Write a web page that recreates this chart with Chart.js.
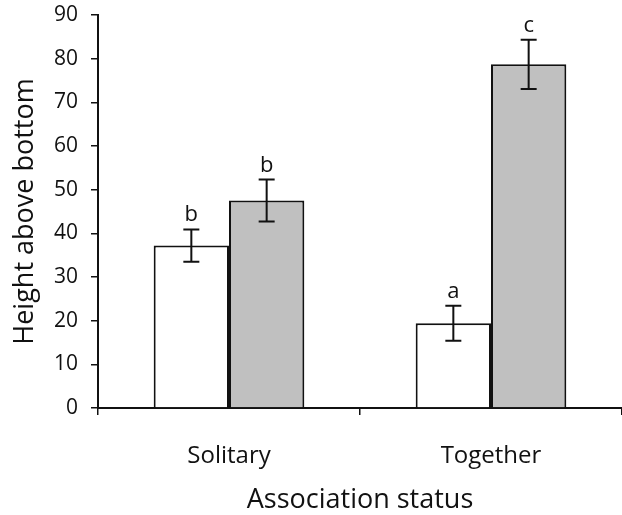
<!DOCTYPE html>
<html>
<head>
<meta charset="utf-8">
<script src="https://cdn.jsdelivr.net/npm/chart.js@4/dist/chart.umd.min.js"></script>
<style>
html,body{margin:0;padding:0;background:#fff;}
#wrap{width:622px;height:515px;}
</style>
</head>
<body>
<div id="wrap"><canvas id="c" width="622" height="515"></canvas></div>
<script>
const categories = ['Solitary', 'Together'];
const seriesWhite = [37.2, 19.4];
const errWhite = [3.7, 4.0];
const lettersWhite = ['b', 'a'];
const seriesGrey = [47.5, 78.7];
const errGrey = [4.8, 5.65];
const lettersGrey = ['b', 'c'];
const yMin = 0, yMax = 90, yStep = 10;
const yTitle = 'Height above bottom';
const xTitle = 'Association status';

const FONT = "'Open Sans', sans-serif";
const INK = '#111';

const errorPlugin = {
  id: 'errorBars',
  afterDatasetsDraw(chart) {
    const ctx = chart.ctx;
    const yScale = chart.scales.y;
    const errs = [errWhite, errGrey];
    const letters = [lettersWhite, lettersGrey];
    chart.data.datasets.forEach((ds, di) => {
      const meta = chart.getDatasetMeta(di);
      meta.data.forEach((bar, i) => {
        const v = ds.data[i];
        const e = errs[di][i];
        const x = bar.x;
        const yTop = yScale.getPixelForValue(v + e);
        const yBot = yScale.getPixelForValue(v - e);
        ctx.save();
        ctx.strokeStyle = INK;
        ctx.lineWidth = 2;
        ctx.beginPath();
        ctx.moveTo(x, yTop); ctx.lineTo(x, yBot);
        ctx.moveTo(x - 8, yTop); ctx.lineTo(x + 8, yTop);
        ctx.moveTo(x - 8, yBot); ctx.lineTo(x + 8, yBot);
        ctx.stroke();
        ctx.fillStyle = INK;
        ctx.font = "22px " + FONT;
        ctx.textAlign = 'center';
        ctx.textBaseline = 'alphabetic';
        ctx.fillText(letters[di][i], x, yTop - 8);
        ctx.restore();
      });
    });
  }
};

new Chart(document.getElementById('c'), {
  type: 'bar',
  data: {
    labels: categories,
    datasets: [
      { label: 'white', data: seriesWhite, backgroundColor: '#ffffff', borderColor: INK, borderWidth: 2,
        borderSkipped: 'start', categoryPercentage: 0.575, barPercentage: 1.0 },
      { label: 'grey', data: seriesGrey, backgroundColor: '#c0c0c0', borderColor: INK, borderWidth: 2,
        borderSkipped: 'start', categoryPercentage: 0.575, barPercentage: 1.0 }
    ]
  },
  options: {
    responsive: false,
    animation: false,
    devicePixelRatio: 1,
    layout: { padding: { top: 15, right: 0, left: 0, bottom: 0 } },
    plugins: { legend: { display: false }, tooltip: { enabled: false } },
    scales: {
      x: {
        offset: true,
        afterFit(s) { s.height = 107; s.paddingLeft = 0; s.paddingRight = 0; },
        grid: { display: true, drawOnChartArea: false, drawTicks: true, tickLength: 7, offset: true, color: INK, lineWidth: 1.5 },
        border: { display: true, color: INK, width: 2 },
        ticks: { color: INK, padding: 27, font: { family: FONT, size: 24 } },
        title: { display: true, text: xTitle, color: INK, padding: 1, font: { family: FONT, size: 27, lineHeight: 1.0 } }
      },
      y: {
        min: yMin, max: yMax,
        afterFit(s) { s.width = 98; s.paddingTop = 0; s.paddingBottom = 0; },
        grid: { display: true, drawOnChartArea: false, drawTicks: true, tickLength: 7, color: INK, lineWidth: 1.5 },
        border: { display: true, color: INK, width: 2 },
        ticks: { stepSize: yStep, color: INK, padding: 13, font: { family: FONT, size: 21 } },
        title: { display: true, text: yTitle, color: INK, padding: 9, font: { family: FONT, size: 27 } }
      }
    }
  },
  plugins: [errorPlugin]
});
</script>
</body>
</html>
